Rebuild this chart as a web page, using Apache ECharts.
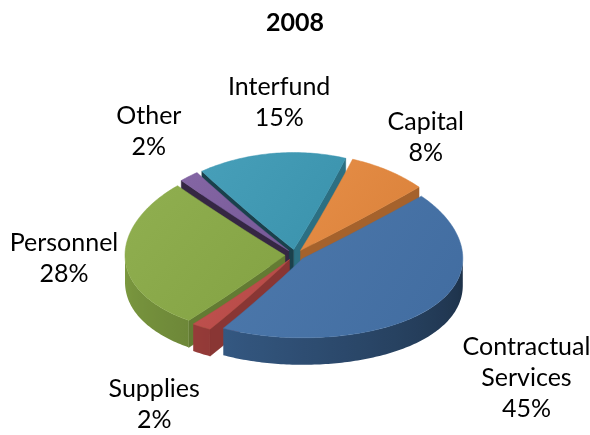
<!DOCTYPE html>
<html>
<head>
<meta charset="utf-8">
<script src="https://cdn.jsdelivr.net/npm/echarts@6/dist/echarts.min.js"></script>
<style>
  html, body { margin: 0; padding: 0; background: #ffffff; }
  #chart { width: 590px; height: 435px; }
</style>
</head>
<body>
<div id="chart"></div>
<script>
// Budget shares for 2008, listed clockwise starting from Capital
const title = '2008';
const categories = ['Capital', 'Contractual Services', 'Supplies', 'Personnel', 'Other', 'Interfund'];
const labelLines = [['Capital'], ['Contractual', 'Services'], ['Supplies'], ['Personnel'], ['Other'], ['Interfund']];
const values = [8, 45, 2, 28, 2, 15];
const colors = ['#e5883d', '#4472a8', '#be4b48', '#8aab47', '#7d5e9f', '#3d9ab5'];

// Layout of the tilted, exploded pie
const PIE = {
  cx: 295, cy: 255, r: 160,
  kFar: 0.60, kNear: 0.50,   // vertical squash of the far / near half
  depth: 27,                 // thickness of the pie
  explode: 0.0625,           // slice offset, as a fraction of the radius
  startDeg: 19               // where the first slice starts, clockwise from 12 o'clock
};
const FONT = 'Lato, "Liberation Sans", sans-serif';
const FONT_SIZE = 25;
const LINE_H = 31;
const labelNudge = [[4, 6], [32, 5], [-10, 14], [15, -5], [-6, -8], [18, -4]];

const total = values.reduce((s, v) => s + v, 0);
const slices = [];
{
  let acc = PIE.startDeg;
  values.forEach(v => {
    const span = v / total * 360;
    slices.push({ a: acc, b: acc + span });
    acc += span;
  });
}

const rad = d => d * Math.PI / 180;

// plane (u to the right, v away from the viewer) -> screen
function proj(u, v, h) {
  const vc = Math.max(-1.2, Math.min(1.2, v));
  const k = (PIE.kFar + PIE.kNear) / 2 + (PIE.kFar - PIE.kNear) / 2 * vc;
  return [PIE.cx + PIE.r * u, PIE.cy - PIE.r * v * k + h];
}

function shade(hex, f) {
  const n = parseInt(hex.slice(1), 16);
  const ch = [(n >> 16) & 255, (n >> 8) & 255, n & 255].map(c => {
    const x = f <= 1 ? c * f : c + (255 - c) * (f - 1);
    return Math.max(0, Math.min(255, Math.round(x)));
  });
  return 'rgb(' + ch.join(',') + ')';
}

function interp(stops, t) {
  if (t <= stops[0][0]) return stops[0][1];
  for (let i = 1; i < stops.length; i++) {
    if (t <= stops[i][0]) {
      const [t0, f0] = stops[i - 1], [t1, f1] = stops[i];
      return f0 + (f1 - f0) * (t - t0) / (t1 - t0);
    }
  }
  return stops[stops.length - 1][1];
}
const wallStops = [[90, 0.42], [140, 0.56], [180, 0.68], [220, 0.8], [270, 0.9]];
const norm = d => ((d % 360) + 360) % 360;
const faceShade = theta => (norm(theta) < 180 ? 0.72 : 0.42);
const depthZ = v => Math.round(2000 - 1000 * v);

const measureCtx = document.createElement('canvas').getContext('2d');
function textWidth(s) {
  measureCtx.font = FONT_SIZE + 'px ' + FONT;
  return measureCtx.measureText(s).width;
}

// parts of [a, b] where the rim faces the viewer (90..270 degrees, any turn)
function frontRanges(a, b) {
  const out = [];
  for (let t = -360; t <= 720; t += 360) {
    const lo = Math.max(a, 90 + t), hi = Math.min(b, 270 + t);
    if (hi - lo > 0.05) out.push([lo, hi]);
  }
  return out;
}

function renderSlice(params, api) {
  const i = params.dataIndex;
  const value = api.value(0);
  const { a, b } = slices[i];
  const m = (a + b) / 2;
  const ox = PIE.explode * Math.sin(rad(m));
  const oy = PIE.explode * Math.cos(rad(m));
  const pt = (phi, rr, h) => proj(ox + rr * Math.sin(rad(phi)), oy + rr * Math.cos(rad(phi)), h);
  const color = colors[i];
  const children = [];

  // radial cut faces that turn toward the viewer
  const cutFace = (phi, normal) => {
    const top = [], bot = [];
    for (let s = 0; s <= 8; s++) {
      top.push(pt(phi, s / 8, 0));
      bot.push(pt(phi, s / 8, PIE.depth));
    }
    const c = shade(color, faceShade(normal));
    children.push({
      type: 'polygon', z2: depthZ(oy + 0.5 * Math.cos(rad(phi))),
      shape: { points: top.concat(bot.reverse()) },
      style: { fill: c, stroke: c, lineWidth: 0.5 }
    });
  };
  if (Math.sin(rad(a)) < 0) cutFace(a, a - 90);
  if (Math.sin(rad(b)) > 0) cutFace(b, b + 90);

  // outer rim: one band per visible range, shaded along its length
  frontRanges(a, b).forEach(([p0, p1]) => {
    const top = [], bot = [];
    const n = Math.max(2, Math.ceil(p1 - p0));
    for (let s = 0; s <= n; s++) {
      const p = p0 + (p1 - p0) * s / n;
      top.push(pt(p, 1, 0));
      bot.push(pt(p, 1, PIE.depth));
    }
    const x0 = top[0][0], x1 = top[n][0];
    const span = Math.abs(x1 - x0) < 0.5 ? 0.5 * Math.sign(x1 - x0 || 1) : x1 - x0;
    const stops = [];
    for (let s = 0; s <= n; s += Math.max(1, Math.floor(n / 24))) {
      const p = p0 + (p1 - p0) * s / n;
      const off = Math.max(0, Math.min(1, (top[s][0] - x0) / span));
      stops.push({ offset: off, color: shade(color, interp(wallStops, norm(p))) });
    }
    stops.push({ offset: 1, color: shade(color, interp(wallStops, norm(p1))) });
    const mid = (p0 + p1) / 2;
    children.push({
      type: 'polygon', z2: depthZ(oy + Math.cos(rad(mid))),
      shape: { points: top.concat(bot.reverse()) },
      style: { fill: new echarts.graphic.LinearGradient(x0, 0, x0 + span, 0, stops, true) }
    });
  });

  // top face
  const topPts = [];
  for (let s = 0; s < 8; s++) topPts.push(pt(a, s / 8, 0));
  for (let p = a; p < b; p += 1) topPts.push(pt(p, 1, 0));
  for (let s = 8; s > 0; s--) topPts.push(pt(b, s / 8, 0));
  children.push({
    type: 'polygon', z2: 5000,
    shape: { points: topPts },
    style: {
      fill: new echarts.graphic.LinearGradient(0, 0, 1, 1, [
        { offset: 0, color: shade(color, 1.05) },
        { offset: 1, color: shade(color, 0.95) }
      ]),
      stroke: shade(color, 0.97), lineWidth: 0.5
    }
  });

  // category and share label
  const lines = labelLines[i].concat([Math.round(value / total * 100) + '%']);
  const w = Math.max.apply(null, lines.map(textWidth));
  const h = lines.length * LINE_H;
  const sx = Math.sin(rad(m)), cv = Math.cos(rad(m));
  const rr = 1.1 + PIE.explode;
  let [lx, ly] = proj(rr * sx, rr * cv, 0);
  if (cv < 0) ly += PIE.depth * Math.min(1, -cv * 1.5);
  lx += sx * (w / 2 + 6) + labelNudge[i][0];
  ly += -cv * (h / 2 + 6) + labelNudge[i][1];
  children.push({
    type: 'text', z2: 6000, x: lx, y: ly,
    style: {
      text: lines.join('\n'), fill: '#000000',
      fontSize: FONT_SIZE, fontFamily: FONT, lineHeight: LINE_H,
      align: 'center', verticalAlign: 'middle'
    }
  });

  return { type: 'group', children };
}

const chart = echarts.init(document.getElementById('chart'), null, { renderer: 'canvas' });
chart.setOption({
  backgroundColor: '#ffffff',
  animation: false,
  title: {
    text: title, left: 'center', top: 5,
    textStyle: { fontFamily: FONT, fontSize: 25, fontWeight: 'bold', color: '#000000' }
  },
  series: [{
    type: 'custom',
    name: title,
    coordinateSystem: 'none',
    silent: true,
    renderItem: renderSlice,
    data: values.map((v, i) => ({ name: categories[i], value: [v] }))
  }]
});
</script>
</body>
</html>
